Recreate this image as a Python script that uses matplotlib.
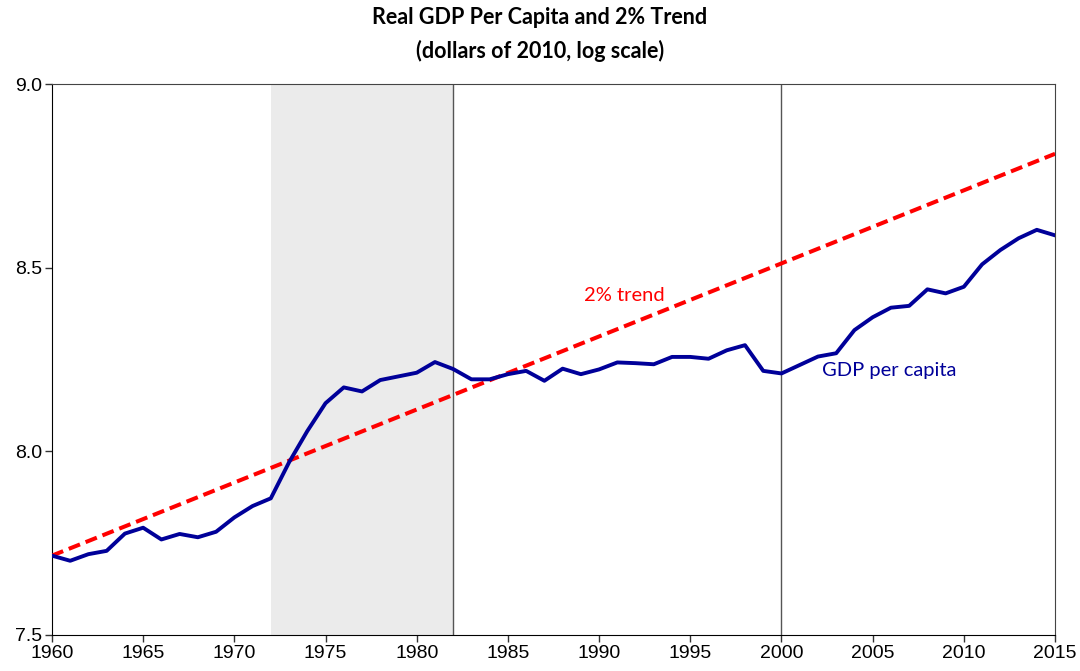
import matplotlib.pyplot as plt

# log real GDP per capita
years = list(range(1960, 2016))
gdp_log = [7.716, 7.702, 7.720, 7.729, 7.776, 7.792, 7.760, 7.775, 7.766, 7.781,
           7.820, 7.851, 7.872, 7.970, 8.055, 8.131, 8.174, 8.163, 8.194, 8.204,
           8.214, 8.243, 8.224, 8.196, 8.196, 8.210, 8.219, 8.192, 8.225, 8.210,
           8.223, 8.242, 8.240, 8.237, 8.257, 8.257, 8.252, 8.275, 8.289, 8.219,
           8.212, 8.235, 8.258, 8.267, 8.330, 8.365, 8.391, 8.396, 8.441, 8.430,
           8.448, 8.509, 8.548, 8.580, 8.603, 8.588]

# 2% trend line endpoints
trend_years = [1960, 2015]
trend_log = [7.716, 8.81]

shade_span = (1972, 1982)
vlines = [1982, 2000]

tick_font = 'Liberation Sans'
text_font = 'Lato'

fig = plt.figure(figsize=(10.8, 6.71), dpi=100)
ax = fig.add_axes([0.0481, 0.0537, 0.9288, 0.8211])

ax.axvspan(shade_span[0], shade_span[1], color='#ebebeb', zorder=0, lw=0)
for v in vlines:
    ax.axvline(v, color='#555555', lw=1.0, zorder=1)

ax.plot(trend_years, trend_log, color='#ff0000', lw=2.9, ls=(0, (3, 1.5)), zorder=3)
ax.plot(years, gdp_log, color='#000099', lw=2.8, zorder=4)

ax.text(1991.4, 8.423, '2% trend', color='#ff0000', fontsize=14.5,
        family=text_font, ha='center', va='center')
ax.text(2002.2, 8.219, 'GDP per capita', color='#000099', fontsize=14.5,
        family=text_font, ha='left', va='center')

ax.set_xlim(1960, 2015)
ax.set_ylim(7.5, 9.0)
ax.set_xticks(range(1960, 2016, 5))
ax.set_yticks([7.5, 8.0, 8.5, 9.0])
ax.set_yticklabels(['7.5', '8.0', '8.5', '9.0'])
for lab in ax.get_xticklabels() + ax.get_yticklabels():
    lab.set_fontfamily(tick_font)
    lab.set_fontsize(14)
ax.tick_params(direction='out', length=5, width=1, color='#333333', pad=2)

for s in ['left', 'bottom']:
    ax.spines[s].set_color('black')
for s in ['top', 'right']:
    ax.spines[s].set_color('#444444')

fig.suptitle('Real GDP Per Capita and 2% Trend\n(dollars of 2010, log scale)',
             x=0.5, y=0.99, fontsize=15.5, fontweight='bold', family=text_font,
             linespacing=1.65)

fig.savefig('out.png', dpi=100)
